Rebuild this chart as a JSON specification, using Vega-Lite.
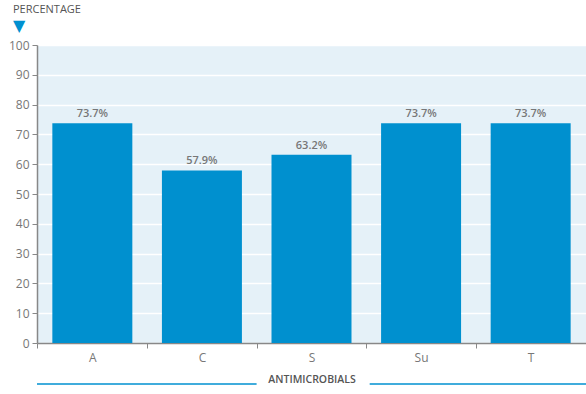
{
  "$schema": "https://vega.github.io/schema/vega-lite/v6.json",
  "autosize": {"type": "none"},
  "padding": {"left": 37, "top": 45, "right": 0, "bottom": 51},
  "width": 549,
  "height": 298,
  "background": "white",
  "config": {
    "font": "Open Sans",
    "view": {"fill": "#e5f1f8", "stroke": null},
    "axis": {"labelFont": "Open Sans", "titleFont": "Open Sans"},
    "axisY": {"tickCount": 10}
  },
  "title": {
    "text": "PERCENTAGE",
    "subtitle": "▼",
    "anchor": "start",
    "frame": "group",
    "dx": -24,
    "offset": 5,
    "fontSize": 11,
    "fontWeight": "normal",
    "color": "#555555",
    "subtitleFontSize": 16,
    "subtitleFont": "DejaVu Sans",
    "subtitleColor": "#0090d0",
    "subtitlePadding": 3
  },
  "datasets": {
    "bars": [
      {"antimicrobial": "A", "percentage": 73.7, "label": "73.7%"},
      {"antimicrobial": "C", "percentage": 57.9, "label": "57.9%"},
      {"antimicrobial": "S", "percentage": 63.2, "label": "63.2%"},
      {"antimicrobial": "Su", "percentage": 73.7, "label": "73.7%"},
      {"antimicrobial": "T", "percentage": 73.7, "label": "73.7%"}
    ],
    "deco": [
      {"start": 0, "end": 2, "level": -13.8},
      {"start": 3.03, "end": 5, "level": -13.8}
    ]
  },
  "layer": [
    {
      "data": {"name": "bars"},
      "encoding": {
        "x": {
          "field": "antimicrobial",
          "type": "nominal",
          "sort": null,
          "scale": {"paddingInner": 0.27, "paddingOuter": 0.14},
          "axis": {
            "title": "ANTIMICROBIALS",
            "tickOffset": -55,
            "labelOffset": 55,
            "labelAngle": 0,
            "labelFontSize": 12,
            "labelColor": "#777777",
            "labelPadding": 4,
            "tickSize": 5,
            "tickColor": "#888888",
            "domainColor": "#888888",
            "domainWidth": 1.5,
            "titleFontSize": 10.5,
            "titleFontWeight": "600",
            "titleColor": "#555555",
            "titlePadding": 11
          }
        },
        "y": {
          "field": "percentage",
          "type": "quantitative",
          "scale": {"domain": [0, 100]},
          "axis": {
            "title": null,
            "labelFontSize": 12,
            "labelColor": "#777777",
            "labelPadding": 3,
            "tickSize": 5,
            "tickColor": "#888888",
            "domainColor": "#888888",
            "domainWidth": 1.5,
            "gridColor": "white",
            "gridWidth": 1.5
          }
        }
      },
      "layer": [
        {"mark": {"type": "bar", "color": "#0090cf"}},
        {
          "mark": {"type": "text", "dy": -9, "fontSize": 11, "fontWeight": "600", "color": "#777777", "font": "Open Sans"},
          "encoding": {"text": {"field": "label"}}
        }
      ]
    },
    {
      "data": {"name": "deco"},
      "mark": {"type": "rule", "color": "#0090d0", "strokeWidth": 1.5, "clip": false},
      "encoding": {
        "x": {"field": "start", "type": "quantitative", "scale": {"domain": [0, 5], "nice": false, "zero": false}, "axis": null},
        "x2": {"field": "end"},
        "y": {"field": "level", "type": "quantitative"}
      }
    }
  ],
  "resolve": {"scale": {"x": "independent"}, "axis": {"x": "independent"}}
}
